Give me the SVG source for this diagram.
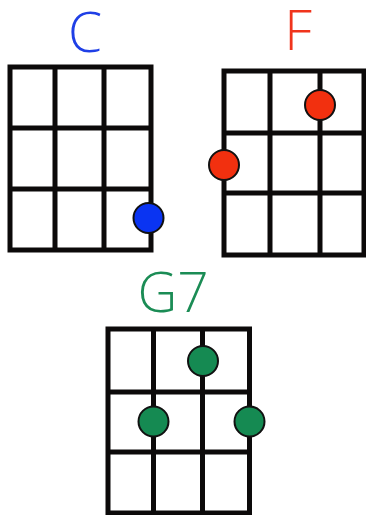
<svg xmlns="http://www.w3.org/2000/svg" width="366" height="515" viewBox="0 0 366 515">
<style>
.grid{fill:none;stroke:#0c0a0a;stroke-width:5;stroke-linecap:square}
.lbl{font-family:"Open Sans","Noto Sans","Liberation Sans",sans-serif;font-weight:300;font-size:55px;text-anchor:middle}
.dot{stroke:#111;stroke-width:2}
</style>
<rect width="366" height="515" fill="#fff"/>
<g id="chord-C">
<text class="lbl" x="85" y="52" fill="#1f3fe6">C</text>
<path class="grid" d="M10,67H151V250H10Z M55,67V250 M104,67V250 M10,128H151 M10,189H151"/>
<circle class="dot" cx="148.5" cy="218" r="15" fill="#0a34f2"/>
</g>
<g id="chord-F">
<text class="lbl" x="298" y="50" fill="#f0341c">F</text>
<path class="grid" d="M224,71H364V255H224Z M270,71V255 M320,71V255 M224,133H364 M224,193H364"/>
<circle class="dot" cx="320" cy="105" r="15" fill="#f2300f"/>
<circle class="dot" cx="224" cy="165" r="15" fill="#f2300f"/>
</g>
<g id="chord-G7">
<text class="lbl" x="173" y="312" fill="#1b8c55">G7</text>
<path class="grid" d="M108,329H249.5V513H108Z M153.5,329V513 M202.5,329V513 M108,392H249.5 M108,452H249.5"/>
<circle class="dot" cx="203" cy="361" r="15" fill="#158a52"/>
<circle class="dot" cx="153.5" cy="421.5" r="15" fill="#158a52"/>
<circle class="dot" cx="249.5" cy="421.5" r="15" fill="#158a52"/>
</g>
<g id="connectors"/>
</svg>
